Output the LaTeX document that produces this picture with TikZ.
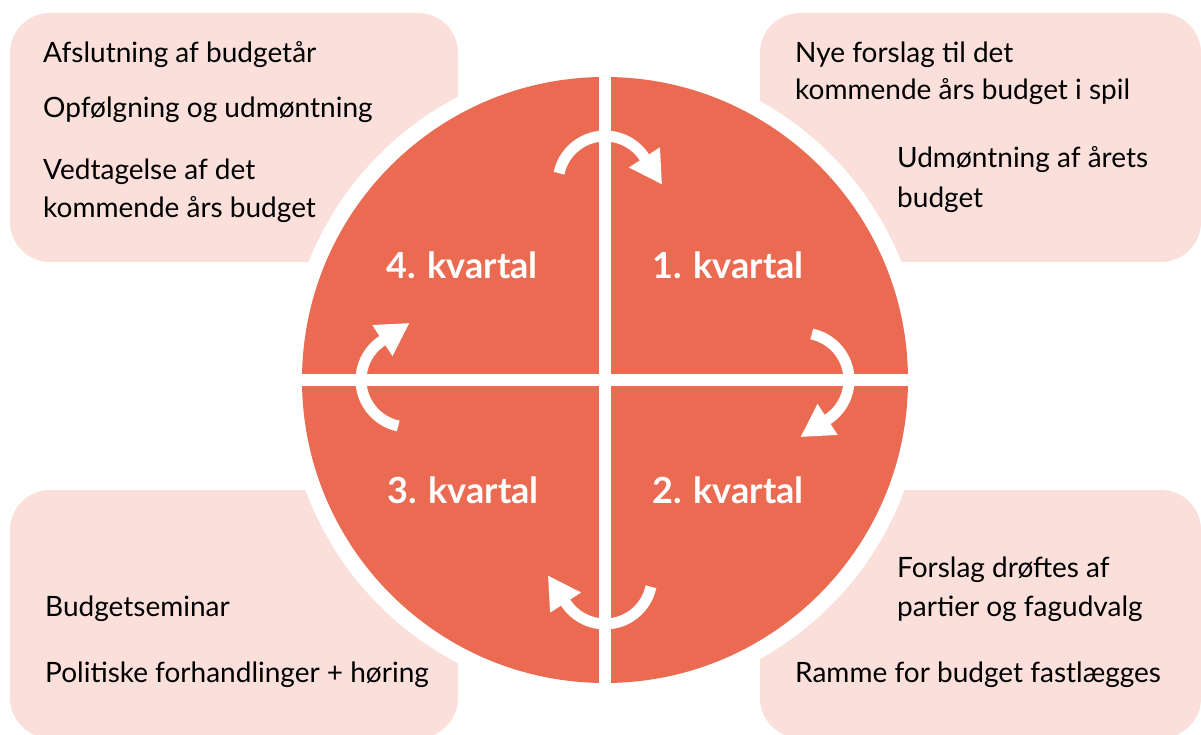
\documentclass[tikz,border=0pt]{standalone}
\usepackage{fontspec}
\setmainfont{Lato}
\usetikzlibrary{calc}
\definecolor{boxpink}{HTML}{FADFDA}
\definecolor{qorange}{HTML}{EB6B52}
\begin{document}
\begin{tikzpicture}[x=1pt,y=1pt,
  infobox/.style={fill=boxpink, rounded corners=40pt},
  itemtxt/.style={anchor=base west, inner sep=0pt, font=\fontsize{28}{32}\selectfont, text=black},
  qlabel/.style={anchor=base, inner sep=0pt, font=\fontsize{36}{40}\selectfont\bfseries, text=white},
  cyclearrow/.style={draw=white, line width=11pt},
  crossbar/.style={draw=white, line width=12pt},
  ]
\useasboundingbox (0,0) rectangle (1201,735);
\coordinate (C) at (605,355);
% corner boxes
\fill[infobox] (10,473) rectangle (458,722);
\fill[infobox] (760,473) rectangle (1201,722);
\fill[infobox] (10,-3) rectangle (458,245);
\fill[infobox] (760,-3) rectangle (1201,245);
% circle
\fill[white] (C) circle (319);
\fill[qorange] (C) circle (303);
\coordinate (ctop) at (605,658);
\coordinate (cbot) at (605,52);
\coordinate (cleft) at (302,355);
\coordinate (cright) at (908,355);
\draw[crossbar] (ctop) -- (cbot);
\draw[crossbar] (cleft) -- (cright);
% arrows
\foreach \k in {0,1,2,3}{
  \pgfmathsetmacro{\ax}{605+197*cos(90-90*\k)}
  \pgfmathsetmacro{\ay}{355+197*sin(90-90*\k)}
  \pgfmathsetmacro{\sa}{168-90*\k}
  \pgfmathsetmacro{\ea}{30-90*\k}
  \pgfmathsetmacro{\ba}{33-90*\k}
  \pgfmathsetmacro{\ta}{\ba-90}
  \coordinate (arc\k) at (\ax,\ay);
  \draw[cyclearrow] (arc\k) ++(\sa:47) arc[start angle=\sa, end angle=\ea, radius=47];
  \fill[white] ($(arc\k)+(\ba:28.5)$) -- ($(arc\k)+(\ba:65.5)$) -- ($(arc\k)+(\ba:47)+(\ta:32)$) -- cycle;
}
% quarter labels
\node[qlabel] (q4) at (462,456) {4. kvartal};
\node[qlabel] (q1) at (728,456) {1. kvartal};
\node[qlabel] (q3) at (463,231) {3. kvartal};
\node[qlabel] (q2) at (728,231) {2. kvartal};
% top-left texts
\node[itemtxt] (tla) at (43,672) {Afslutning af budgetår};
\node[itemtxt] (tlb) at (43,617) {Opfølgning og udmøntning};
\node[itemtxt] (tlc) at (43,555) {Vedtagelse af det};
\node[itemtxt] (tld) at (43,517) {kommende års budget};
% top-right texts
\node[itemtxt] (tra) at (795,672) {Nye forslag til det};
\node[itemtxt] (trb) at (795,635) {kommende års budget i spil};
\node[itemtxt] (trc) at (897,567) {Udmøntning af årets};
\node[itemtxt] (trd) at (897,527) {budget};
% bottom-right texts
\node[itemtxt] (bra) at (897,157) {Forslag drøftes af};
\node[itemtxt] (brb) at (897,118) {partier og fagudvalg};
\node[itemtxt] (brc) at (795,52) {Ramme for budget fastlægges};
% bottom-left texts
\node[itemtxt] (bla) at (45,118) {Budgetseminar};
\node[itemtxt] (blb) at (45,52) {Politiske forhandlinger + høring};
\end{tikzpicture}
\end{document}
